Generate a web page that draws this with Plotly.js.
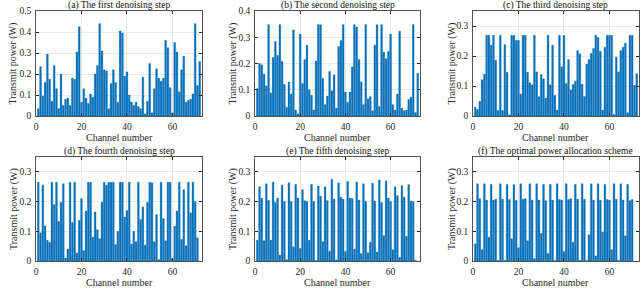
<!DOCTYPE html>
<html><head><meta charset="utf-8">
<script src="https://cdn.plot.ly/plotly-3.0.1.min.js"></script>
<style>html,body{margin:0;padding:0;background:#fff}#chart{width:640px;height:299px}</style>
</head><body><div id="chart"></div>
<script>
const panelTitles = [
  "(a) The first denoising step",
  "(b) The second denoising step",
  "(c) The third denoising step",
  "(d) The fourth denoising step",
  "(e) The fifth denoising step",
  "(f) The optimal power allocation scheme"
];
const xAxisTitle = "Channel number";
const yAxisTitle = "Transmit power (W)";
const xTickVals = [0, 20, 40, 60];
const yTickVals = [0, 0.1, 0.2, 0.3, 0.4, 0.5];
const yMax = [0.5, 0.4, 0.35, 0.35, 0.35, 0.35];

const step1 = [0.035,0.235,0.095,0.16,0.295,0.175,0.07,0.24,0.13,0.035,
0.2,0.05,0.08,0.085,0.05,0.18,0.175,0.305,0.425,0.065,
0.13,0.085,0.06,0.105,0.09,0.2,0.24,0.44,0.31,0.22,
0.215,0.035,0.155,0.22,0.16,0.065,0.405,0.395,0.19,0.21,
0.1,0.067,0.05,0.067,0.045,0.035,0.185,0.01,0.07,0.25,
0.015,0.13,0.225,0.18,0.165,0.18,0.36,0.325,0.135,0.015,
0.35,0.305,0.115,0.22,0.285,0.065,0.075,0.08,0.105,0.44,
0.145,0.26];
const step2 = [0.104,0.2,0.195,0.16,0.115,0.348,0.088,0.223,0.284,0.231,
0.348,0.208,0.12,0.033,0.13,0.084,0.328,0.023,0.008,0.312,
0.124,0.215,0.27,0.1,0.079,0.023,0.21,0.348,0.348,0.143,
0.043,0.076,0.17,0.096,0.157,0.03,0.265,0.288,0.348,0.091,
0.052,0.091,0.187,0.348,0.339,0.215,0.13,0.043,0.348,0.066,
0.074,0.02,0.27,0.348,0.036,0.348,0.243,0.218,0.246,0.312,
0.043,0.023,0.084,0.323,0.03,0.02,0.023,0.063,0.071,0.348,
0.013,0.163];
const step3 = [0.029,0.022,0.049,0.121,0.14,0.269,0.269,0.236,0.269,0.186,
0.018,0.269,0.018,0.238,0.146,0.004,0.269,0.269,0.252,0.252,
0.073,0.269,0.269,0.146,0.111,0.104,0.269,0.147,0.064,0.138,
0.124,0.06,0.269,0.104,0.236,0.069,0.02,0.269,0.164,0.269,
0.108,0.188,0.087,0.105,0.116,0.218,0.207,0.106,0.065,0.173,
0.188,0.209,0.225,0.269,0.262,0.216,0.02,0.229,0.269,0.269,
0.269,0.005,0.196,0.147,0.218,0.229,0.243,0.011,0.269,0.269,
0.102,0.141];
const step4 = [0.265,0.095,0.255,0.118,0.07,0.063,0.265,0.19,0.265,0.133,
0.197,0.26,0.01,0.04,0.265,0.13,0.265,0.027,0.137,0.21,
0.035,0.168,0.265,0.265,0.08,0.165,0.105,0.075,0.198,0.265,
0.255,0.265,0.265,0.265,0.055,0.1,0.265,0.265,0.148,0.17,
0.265,0.057,0.1,0.065,0.265,0.14,0.182,0.054,0.197,0.265,
0.263,0.065,0.156,0.005,0.265,0.143,0.068,0.265,0.265,0.008,
0.117,0.168,0.265,0.073,0.24,0.051,0.265,0.162,0.265,0.2,
0.078];
const step5 = [0.07,0.25,0.212,0.068,0.26,0.204,0.07,0.265,0.197,0.212,
0.02,0.255,0.2,0.005,0.263,0.2,0.048,0.258,0.212,0.042,
0.24,0.203,0.2,0.07,0.258,0.2,0.002,0.252,0.218,0.065,
0.25,0.203,0.033,0.275,0.208,0.004,0.263,0.215,0.208,0.032,
0.268,0.212,0.21,0.04,0.266,0.205,0.025,0.26,0.2,0.028,
0.063,0.262,0.202,0.03,0.273,0.197,0.085,0.27,0.212,0.2,
0.038,0.25,0.22,0.012,0.253,0.215,0.083,0.257,0.202,0.2,
0.003];
const optimal = [0.058,0.26,0.21,0.038,0.26,0.205,0.08,0.258,0.205,0.208,
0.002,0.26,0.208,0.002,0.258,0.207,0.075,0.257,0.204,0.045,
0.26,0.208,0.21,0.068,0.26,0.205,0.008,0.26,0.205,0.093,
0.258,0.203,0.025,0.258,0.205,0.002,0.26,0.207,0.205,0.032,
0.26,0.207,0.21,0.063,0.258,0.208,0.002,0.26,0.208,0.002,
0.088,0.26,0.205,0.017,0.26,0.205,0.097,0.258,0.207,0.205,
0.038,0.26,0.208,0.002,0.26,0.205,0.085,0.258,0.203,0.207];

const series = [step1, step2, step3, step4, step5, optimal];

const xDom = [[0, 0.2753], [0.3632, 0.6368], [0.7247, 1]];
const yDom = [[0.58, 1], [0, 0.416]];
const yTitleX = [-0.0365, 0.3267, 0.6899];
const xTitleY = [0.494, -0.086];
const FONT = "Liberation Serif, Times New Roman, serif";
const AX = '#262626';

const data = [];
const layout = {
  width: 640, height: 299,
  margin: {l: 36, r: 1, t: 11, b: 38},
  paper_bgcolor: '#fff', plot_bgcolor: '#fff',
  showlegend: false,
  bargap: 0.2,
  font: {family: FONT, size: 9, color: AX},
  annotations: []
};

series.forEach((vals, i) => {
  const n = i + 1;
  const xa = 'x' + (n === 1 ? '' : n);
  const ya = 'y' + (n === 1 ? '' : n);
  data.push({
    type: 'bar',
    x: vals.map((_, k) => k + 1),
    y: vals,
    xaxis: xa, yaxis: ya,
    marker: {color: '#0072BD', line: {color: '#0062A6', width: 0.3}},
    hoverinfo: 'x+y'
  });
  const col = i % 3, row = Math.floor(i / 3);
  const xKey = 'xaxis' + (n === 1 ? '' : n);
  const yKey = 'yaxis' + (n === 1 ? '' : n);
  layout[xKey] = {
    domain: xDom[col], anchor: ya, range: [0, 73],
    tickvals: xTickVals, ticks: 'inside', ticklen: 3, tickcolor: AX,
    showline: true, linecolor: AX, linewidth: 0.8, mirror: 'ticks',
    showgrid: true, gridcolor: '#e3e3e3', gridwidth: 0.8, zeroline: false,
    tickfont: {family: FONT, size: 9.5, color: AX},
    ticklabelstandoff: 2
  };
  layout[yKey] = {
    domain: yDom[row], anchor: xa, range: [0, yMax[i]],
    tickvals: yTickVals.filter(v => v <= yMax[i] + 1e-9), ticks: 'inside', ticklen: 3, tickcolor: AX,
    showline: true, linecolor: AX, linewidth: 0.8, mirror: 'ticks',
    showgrid: true, gridcolor: '#e3e3e3', gridwidth: 0.8, zeroline: false,
    tickfont: {family: FONT, size: 9.5, color: AX},
    ticklabelstandoff: 2
  };
  const cx = (xDom[col][0] + xDom[col][1]) / 2;
  layout.annotations.push({
    text: panelTitles[i], xref: 'paper', yref: 'paper',
    x: cx, y: yDom[row][1],
    xanchor: 'center', yanchor: 'middle', yshift: 5.5, showarrow: false,
    font: {family: FONT, size: 9.5, color: '#111'}
  });
  layout.annotations.push({
    text: xAxisTitle, xref: 'paper', yref: 'paper',
    x: cx, y: xTitleY[row], xanchor: 'center', yanchor: 'middle', showarrow: false,
    font: {family: FONT, size: 10, color: AX}
  });
  layout.annotations.push({
    text: yAxisTitle, xref: 'paper', yref: 'paper', textangle: -90,
    x: yTitleX[col], y: (yDom[row][0] + yDom[row][1]) / 2,
    xanchor: 'center', yanchor: 'middle', showarrow: false,
    font: {family: FONT, size: 10, color: AX}
  });
});

Plotly.newPlot('chart', data, layout, {displayModeBar: false, staticPlot: true});
</script></body></html>
